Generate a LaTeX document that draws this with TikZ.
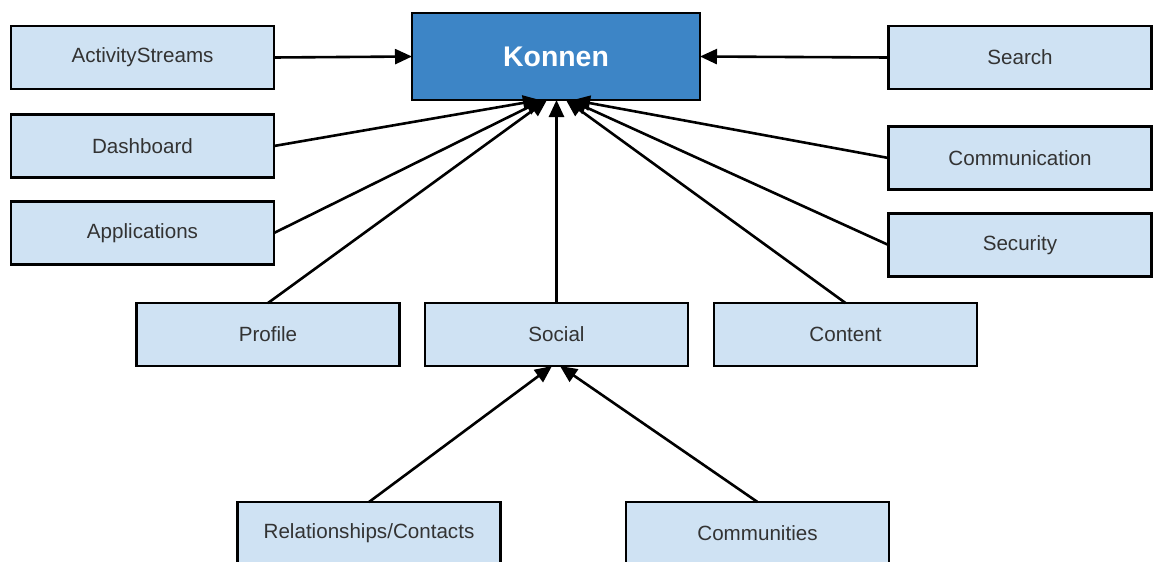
\documentclass[tikz,border=0pt]{standalone}
\usepackage{fontspec}
\setmainfont{Liberation Sans}
\usetikzlibrary{arrows.meta}
\definecolor{boxfill}{HTML}{CFE2F3}
\definecolor{corefill}{HTML}{3D85C6}
\definecolor{boxtext}{HTML}{333333}
\begin{document}
\begin{tikzpicture}[x=0.5pt,y=-0.5pt,
  module/.style={draw=black,line width=1.2pt,fill=boxfill,text=boxtext,
    minimum width=131.5pt,minimum height=31.5pt,inner sep=0pt,outer sep=0pt,
    font=\fontsize{10.3}{12}\selectfont},
  core/.style={draw=black,line width=1.2pt,fill=corefill,text=white,
    minimum width=144pt,minimum height=43.5pt,inner sep=0pt,outer sep=0pt,
    font=\fontsize{14.2}{16}\selectfont\bfseries},
  link/.style={line width=1.3pt,-{Triangle[length=8.5pt,width=7.5pt]}}]
\clip (0,0) rectangle (1153,562);
\fill[white] (0,0) rectangle (1153,562);

% central component
\node[core] (konnen) at (556,56.5) {Konnen};

% left column
\node[module] (activity) at (142.5,57.5) {ActivityStreams};
\node[module] (dash) at (142.5,146) {Dashboard};
\node[module] (apps) at (142.5,233) {Applications};

% right column
\node[module] (search) at (1020,57.5) {Search};
\node[module] (comm) at (1020,158) {Communication};
\node[module] (sec) at (1020,245) {Security};

% middle row
\node[module] (profile) at (268,334.5) {Profile};
\node[module] (social) at (556.5,334.5) {Social};
\node[module] (content) at (845.5,334.5) {Content};

% bottom row, running past the lower edge
\node[module,anchor=north] (rel) at (369,502) {Relationships/Contacts};
\node[module,anchor=north] (commun) at (757.5,502) {Communities};

% arrival points on the underside of the central box
\coordinate (k1) at (540,100);
\coordinate (k2) at (543,100);
\coordinate (k3) at (547,100);
\coordinate (k4) at (556.5,100);
\coordinate (k5) at (566,100);
\coordinate (k6) at (570,100);
\coordinate (k7) at (573,100);
\coordinate (s1) at (552,366);
\coordinate (s2) at (560,366);

\draw[link] (activity.east) -- (konnen.west);
\draw[link] (search.west) -- (konnen.east);
\draw[link] (dash.east) -- (k1);
\draw[link] (apps.east) -- (k2);
\draw[link] (profile.north) -- (k3);
\draw[link] (social.north) -- (k4);
\draw[link] (content.north) -- (k5);
\draw[link] (sec.west) -- (k6);
\draw[link] (comm.west) -- (k7);
\draw[link] (rel.north) -- (s1);
\draw[link] (commun.north) -- (s2);
\end{tikzpicture}
\end{document}
